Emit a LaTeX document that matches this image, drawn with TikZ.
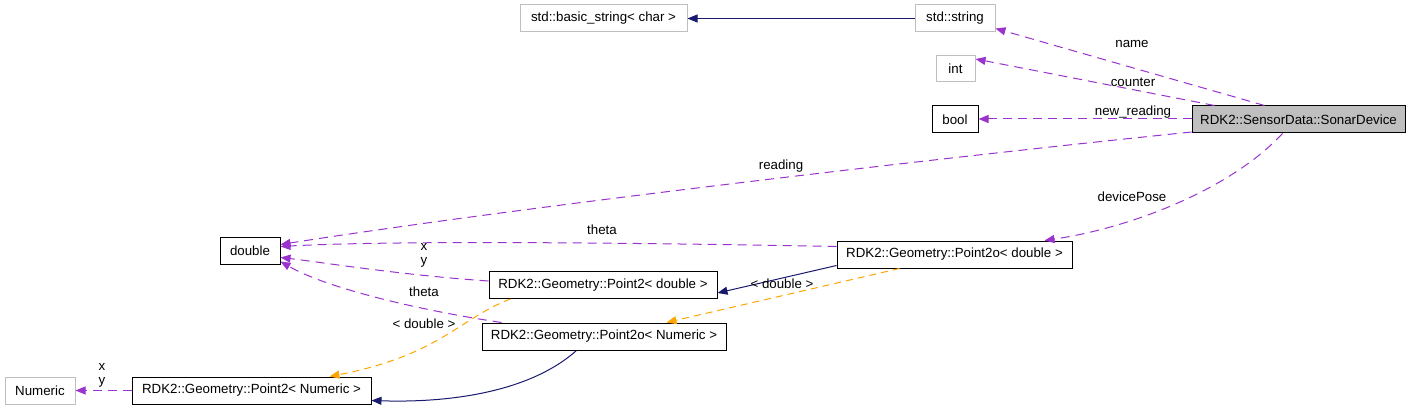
\documentclass[tikz,border=0pt]{standalone}
\usepackage{fontspec}
\setmainfont{Liberation Sans}
\usetikzlibrary{arrows.meta}
\definecolor{purp}{HTML}{9A32CD}
\definecolor{navyc}{HTML}{191970}
\definecolor{orng}{HTML}{FFA500}
\definecolor{gry}{HTML}{BFBFBF}
\begin{document}
\begin{tikzpicture}[x=1pt,y=-1pt,
  font=\fontsize{13.3}{15}\selectfont,
  box/.style={draw=black,line width=1pt,minimum height=27pt,inner sep=0pt},
  gbox/.style={box,draw=gry},
  lbl/.style={inner sep=0pt},
  tip/.style={-{Triangle[length=10pt,width=8pt]}},
  purpE/.style={tip,draw=purp,line width=1pt,dash pattern=on 9pt off 6pt},
  navyE/.style={tip,draw=navyc,line width=1pt},
  orngE/.style={tip,draw=orng,line width=1pt,dash pattern=on 7pt off 5pt},
]
\useasboundingbox (0,0) rectangle (1411,409);
% nodes
\node[gbox,minimum width=167pt] (bs) at (603.5,18.5) {std::basic\_string< char >};
\node[gbox,minimum width=80pt] (str) at (955,18.5) {std::string};
\node[gbox,minimum width=39pt,minimum height=26pt] (int) at (955.5,69) {int};
\node[box,minimum width=46pt] (bool) at (955,119.5) {bool};
\node[box,fill=gry,minimum width=213pt] (sonar) at (1298.5,119.5) {RDK2::SensorData::SonarDevice};
\node[box,minimum width=60pt] (dbl) at (250,250.5) {double};
\node[box,minimum width=235pt] (p2od) at (954.5,254.5) {RDK2::Geometry::Point2o< double >};
\node[box,minimum width=228pt] (p2d) at (603,285) {RDK2::Geometry::Point2< double >};
\node[box,minimum width=244pt] (p2on) at (604,336.5) {RDK2::Geometry::Point2o< Numeric >};
\node[box,minimum width=239pt] (p2n) at (251.5,390.5) {RDK2::Geometry::Point2< Numeric >};
\node[gbox,minimum width=70pt] (num) at (40,390.5) {Numeric};
% edges
\draw[navyE] (str.west) -- (bs.east);
\draw[purpE] ([xshift=73pt]sonar.north west) -- ([yshift=4pt]str.south east);
\draw[purpE] ([xshift=23pt]sonar.north west) -- ([yshift=10pt]int.east);
\draw[purpE] ([yshift=0.5pt]sonar.west) -- ([yshift=0.5pt]bool.east);
\draw[purpE] ([yshift=1.5pt]sonar.south west) .. controls (900,162) and (500,210) .. ([yshift=6pt]dbl.east);
\draw[purpE] ([xshift=91pt]sonar.south west) .. controls (1230,190) and (1130,228) .. ([xshift=208pt]p2od.north west);
\draw[purpE] ([yshift=8pt]p2od.west) .. controls (650,243) and (400,240) .. ([yshift=4pt]dbl.east);
\draw[purpE] ([yshift=4pt]p2d.west) .. controls (400,275) and (320,262) .. ([yshift=-7pt]dbl.east);
\draw[purpE] ([xshift=20pt]p2on.north west) .. controls (430,312) and (330,290) .. ([yshift=-11pt]dbl.east);
\draw[navyE] ([yshift=-11pt]p2od.west) -- ([yshift=-8pt]p2d.east);
\draw[orngE] ([xshift=63pt]p2od.south west) -- ([xshift=185pt]p2on.north west);
\draw[orngE] ([xshift=22pt]p2d.south west) .. controls (460,318) and (440,355) .. ([xshift=198pt]p2n.north west);
\draw[navyE] ([xshift=95pt]p2on.south west) .. controls (530,392) and (450,403) .. ([yshift=-10pt]p2n.east);
\draw[purpE] (p2n.west) -- (num.east);
% labels
\node[lbl] (lname) at (1132,44) {name};
\node[lbl] (lcounter) at (1133,82) {counter};
\node[lbl] (lnew) at (1133,112) {new\_reading};
\node[lbl] (lread) at (781,166) {reading};
\node[lbl] (ldev) at (1132,197) {devicePose};
\node[lbl] (ltheta1) at (602,230) {theta};
\node[lbl] (lx1) at (424,247) {x};
\node[lbl] (ly1) at (424,262) {y};
\node[lbl] (ltheta2) at (424,292) {theta};
\node[lbl] (ld1) at (424,324) {< double >};
\node[lbl] (ld2) at (782,284) {< double >};
\node[lbl] (lx2) at (102,367) {x};
\node[lbl] (ly2) at (102,382) {y};
\end{tikzpicture}
\end{document}
